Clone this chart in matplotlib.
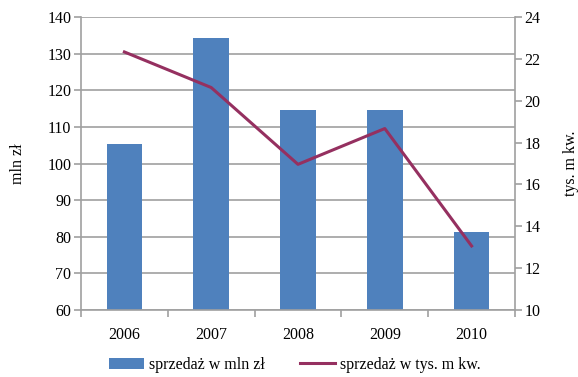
import matplotlib
matplotlib.use("Agg")
import matplotlib.pyplot as plt
from matplotlib.patches import Patch
from matplotlib.lines import Line2D
import numpy as np

plt.rcParams['font.family'] = ['Liberation Serif', 'DejaVu Serif']

years = ["2006", "2007", "2008", "2009", "2010"]
sales_mln = [105.2, 134.2, 114.5, 114.5, 81.2]
sales_area = [22.33, 20.63, 16.96, 18.67, 13.06]

bar_color = "#4F81BD"
line_color = "#953060"
grid_color = "#A0A0A0"

fig = plt.figure(figsize=(5.78, 3.77), dpi=100)
ax = fig.add_axes([81/578, 1 - 310/377, (515-81)/578, (310-17)/377])
x = np.arange(len(years))
ax.bar(x, sales_mln, width=0.41, color=bar_color, zorder=2, bottom=0)
ax.set_ylim(60, 140)
ax.set_xlim(-0.5, len(years) - 0.5)
ax.set_yticks(np.arange(60, 141, 10))
ax.set_xticks(x)
ax.set_xticklabels(years)
ax.set_xticks(np.arange(-0.5, len(years), 1), minor=True)
ax.tick_params(axis='x', which='major', length=0, pad=12, labelsize=11.5)
ax.tick_params(axis='x', which='minor', length=5, color=grid_color, width=1.2)
ax.tick_params(axis='y', length=5, color=grid_color, width=1.2, labelsize=11.5, pad=2)
ax.grid(axis='y', color=grid_color, linewidth=1.2, zorder=0)
ax.set_axisbelow(True)
for s in ['top', 'right']:
    ax.spines[s].set_visible(False)
for s in ['left', 'bottom']:
    ax.spines[s].set_color(grid_color)
    ax.spines[s].set_linewidth(1.2)
ax.set_ylabel("mln zł", fontsize=11.5)
ax.yaxis.set_label_coords(-0.127, 0.5)

ax2 = ax.twinx()
ax2.plot(x, sales_area, color=line_color, linewidth=2.2, zorder=3)
ax2.set_ylim(10, 24)
ax2.set_yticks(np.arange(10, 25, 2))
ax2.tick_params(axis='y', length=5, color=grid_color, width=1.2, labelsize=11.5, pad=2)
for s in ['top', 'left', 'bottom']:
    ax2.spines[s].set_visible(False)
ax2.spines['right'].set_color(grid_color)
ax2.spines['right'].set_linewidth(1.2)
ax2.set_ylabel("tys. m kw.", fontsize=11.5, rotation=90)
ax2.yaxis.set_label_coords(1.11, 0.5)

handles = [Patch(facecolor=bar_color, edgecolor='none'),
           Line2D([0], [0], color=line_color, linewidth=2.2)]
fig.legend(handles, ["sprzedaż w mln zł", "sprzedaż w tys. m kw."],
           loc='center', bbox_to_anchor=(295/578, 1 - 365/377), ncol=2,
           frameon=False, fontsize=11.5, handlelength=2.2, columnspacing=2.2,
           handletextpad=0.3)

fig.savefig("out.png", dpi=100)
